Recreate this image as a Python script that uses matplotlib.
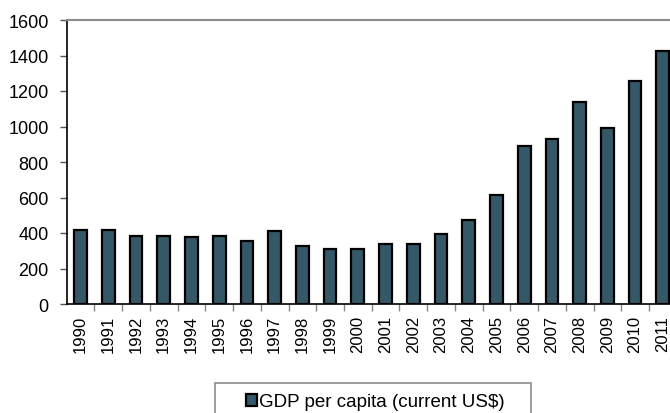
import matplotlib.pyplot as plt
from matplotlib.patches import Rectangle
from matplotlib.ticker import FixedLocator
import numpy as np

plt.rcParams['font.family'] = ['Liberation Sans', 'DejaVu Sans']

# 年份与人均GDP（现价美元）
years = [str(y) for y in range(1990, 2012)]
gdp = [418, 418, 381, 381, 380, 383, 353, 409, 328, 310, 310,
       340, 340, 392, 475, 612, 890, 930, 1140, 993, 1256, 1425]
series_name = 'GDP per capita (current US$)'

bar_color = '#345868'

fig = plt.figure(figsize=(6.7, 4.14), dpi=100)
# 坐标区右侧超出画布，与原图被裁切的效果一致
ax = fig.add_axes([66.7 / 670, 1 - 305 / 414, 610 / 670, 284 / 414])

x = np.arange(len(years))
bars = ax.bar(x, gdp, width=0.46, color=bar_color, edgecolor='black',
              linewidth=1.6, label=series_name)

ax.set_xlim(-0.5, len(years) - 0.5)
ax.set_ylim(0, 1600)
ax.set_yticks(range(0, 1601, 200))

ax.set_xticks(x)
ax.set_xticklabels(years, rotation=90)
ax.xaxis.set_minor_locator(FixedLocator(np.arange(0.5, len(years) - 0.5, 1)))
ax.tick_params(axis='x', which='major', length=0, pad=8, labelsize=12)
ax.tick_params(axis='x', which='minor', length=5, color='#888888', width=1)
ax.tick_params(axis='y', length=5, color='#555555', width=1, pad=8, labelsize=13)

ax.spines['left'].set_color('black')
ax.spines['left'].set_linewidth(1.2)
ax.spines['bottom'].set_color('black')
ax.spines['bottom'].set_linewidth(1.2)
ax.spines['top'].set_color('#8c8c8c')
ax.spines['top'].set_linewidth(1.5)
ax.spines['right'].set_visible(False)

# 图例外框
fig.patches.append(Rectangle((215 / 670, -0.05), 316 / 670, 0.05 + (414 - 384) / 414,
                             transform=fig.transFigure, fill=False,
                             edgecolor='#8c8c8c', linewidth=1.2))
fig.legend(handles=[bars], labels=[series_name], loc='center',
           bbox_to_anchor=(375 / 670, 1 - 403 / 414), frameon=False,
           fontsize=13.5, handlelength=0.6, handleheight=0.6,
           handletextpad=0.1, borderaxespad=0)

fig.savefig('out.png', dpi=100)
